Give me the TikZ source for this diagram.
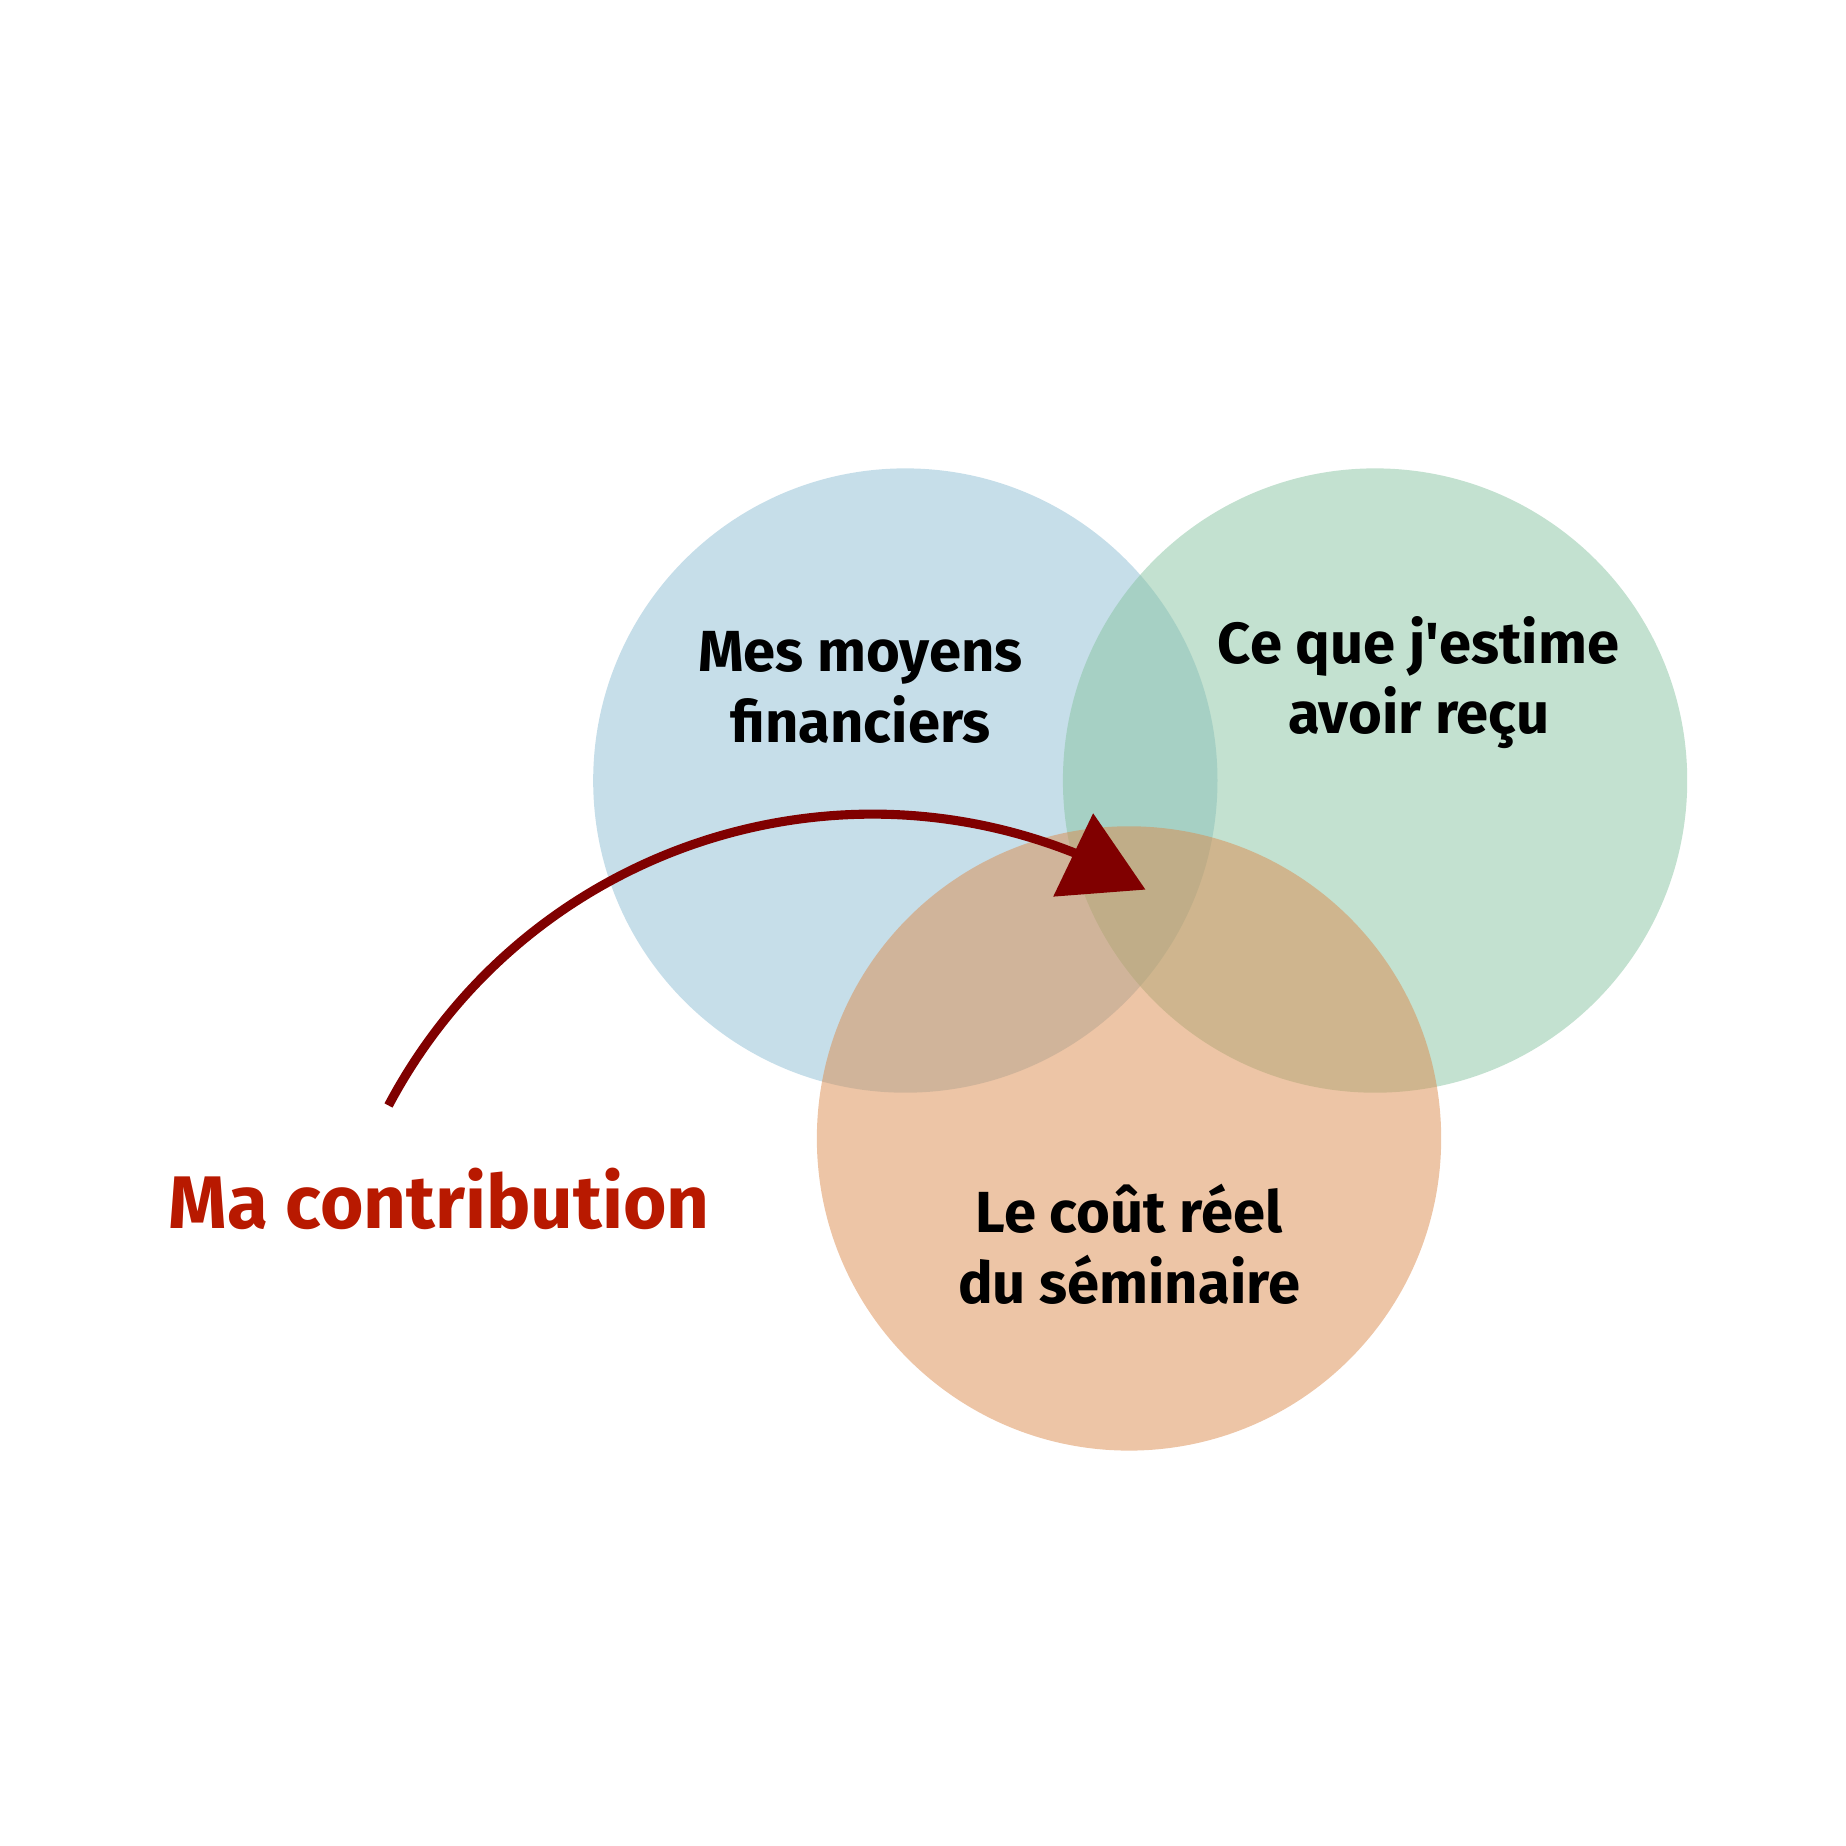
\documentclass[tikz,border=0pt]{standalone}
\usepackage{fontspec}
\setmainfont{Fira Sans}
\usepackage{xcolor}
\usepackage{tikz}
\usetikzlibrary{shapes,shapes.geometric,arrows,positioning,calc}

\definecolor{moyensblue}{RGB}{141,189,211}
\definecolor{recugreen}{RGB}{135,195,161}
\definecolor{coutorange}{RGB}{219,139,77}
\definecolor{contribred}{RGB}{184,25,0}
\definecolor{arrowred}{RGB}{128,0,0}

\begin{document}
\begin{tikzpicture}[
    x=0.01cm, y=0.01cm,
    setcircle/.style={circle, minimum size=5.3cm, inner sep=0pt, fill opacity=0.5},
    lbl/.style={font=\fontsize{14}{17}\selectfont\bfseries, align=center, text=black},
    bigred/.style={font=\fontsize{18}{22}\selectfont\bfseries, text=contribred},
    arr/.style={draw=arrowred, line width=2.2pt},
    tipbox/.style={regular polygon, regular polygon sides=3, fill=arrowred,
                minimum size=0.906cm, inner sep=0pt, outer sep=0pt, rotate=4.4}
]
\useasboundingbox (0,0) rectangle (1568,1568);

% --- The three sets ---
\node[setcircle, fill=moyensblue] (moyens) at (769,905) {};
\node[setcircle, fill=recugreen] (recu) at (1168,905) {};
\node[setcircle, fill=coutorange] (cout) at (959,601) {};

% Labels inside the circles
\node[lbl] (moyenslbl) at ([shift={(-38,79)}]moyens.center) {Mes moyens\\financiers};
\node[lbl] (reculbl) at ([shift={(37,83)}]recu.center) {Ce que j\textquotesingle estime\\avoir reçu};
\node[lbl] (coutlbl) at ([shift={(0,-90)}]cout.center) {Le coût réel\\du séminaire};

% --- Contribution arrow ---
\node[bigred] (contrib) at (373,550) {Ma contribution};
\coordinate (arrstart) at (330,629);
\draw[arr] (arrstart) arc[start angle=152.1, end angle=65.6, radius=465];
\node[tipbox] (tip) at (932,832) {};

\end{tikzpicture}
\end{document}
